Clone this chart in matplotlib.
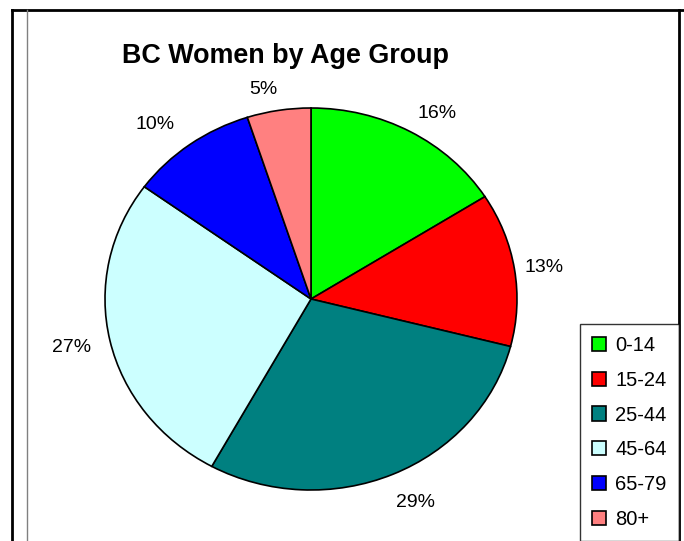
import matplotlib.pyplot as plt
from matplotlib.lines import Line2D

plt.rcParams['font.family'] = ['Liberation Sans', 'DejaVu Sans']

# BC women by age group (share of population, %)
age_groups = ['0-14', '15-24', '25-44', '45-64', '65-79', '80+']
shares = [16, 13, 29, 27, 10, 5]
slice_colors = ['#00FF00', '#FF0000', '#008080', '#CCFFFF', '#0000FF', '#FF8080']

W, H = 684, 541
fig = plt.figure(figsize=(W / 100, H / 100), dpi=100)

# chart frame (Excel-style border lines)
def fx(px): return px / W
def fy(py): return 1 - py / H
fig.add_artist(Line2D([fx(12), fx(684)], [fy(10), fy(10)], color='black', lw=2))
fig.add_artist(Line2D([fx(12), fx(12)], [fy(10), fy(541)], color='black', lw=2))
fig.add_artist(Line2D([fx(679), fx(679)], [fy(10), fy(541)], color='black', lw=2))
fig.add_artist(Line2D([fx(27), fx(27)], [fy(10), fy(541)], color='#808080', lw=1))

# pie occupies x 105..517, y 108..490 (slightly elliptical)
ax = fig.add_axes([fx(105), fy(490), (517 - 105) / W, (490 - 108) / H])
wedges, texts, autotexts = ax.pie(
    shares, colors=slice_colors, startangle=90, counterclock=False,
    autopct='%1.0f%%', pctdistance=1.16,
    wedgeprops=dict(edgecolor='black', linewidth=1.2),
    textprops=dict(fontsize=14, color='black'))
ax.set_aspect('auto')
ax.set_xlim(-1, 1)
ax.set_ylim(-1, 1)
ax.axis('off')

# small nudges so the percent labels sit where Excel put them (pixels)
nudges = [(11, 9), (-3, 3), (10, 0), (-6, 0), (-15, 5), (-10, 9)]
for t, (dx, dy) in zip(autotexts, nudges):
    x, y = t.get_position()
    t.set_position((x + dx / 206, y - dy / 191))

fig.text(fx(285), fy(56), 'BC Women by Age Group', ha='center', va='center',
         fontsize=19.4, fontweight='bold')

leg = fig.legend(wedges, age_groups, loc='upper right',
                 bbox_to_anchor=(fx(679), fy(324)), borderaxespad=0,
                 frameon=True, fancybox=False, edgecolor='black',
                 fontsize=14.5, handlelength=0.7, handleheight=0.7,
                 handletextpad=0.45, labelspacing=0.78, borderpad=0.6)
leg.get_frame().set_linewidth(1)

fig.savefig('out.png', dpi=100, facecolor='white')
